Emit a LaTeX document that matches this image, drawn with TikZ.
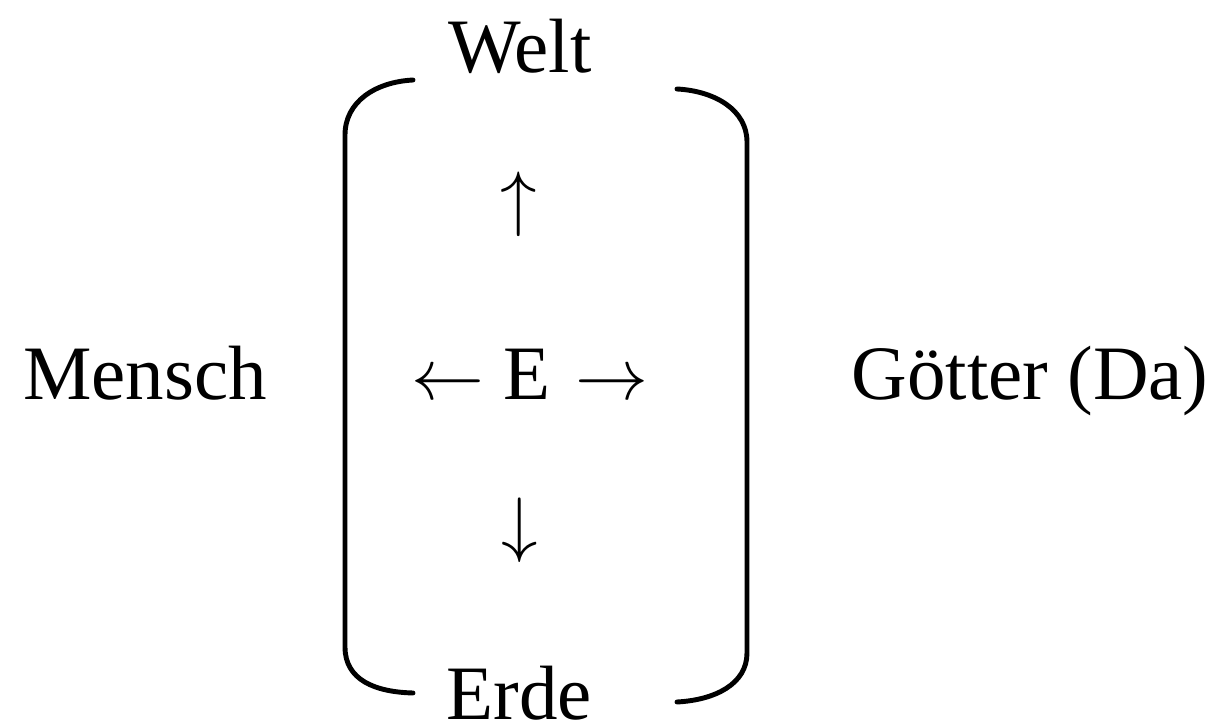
\documentclass[tikz,border=0pt]{standalone}
\usepackage{fontspec}
\setmainfont{Liberation Serif}
\usepackage{tikz}

\begin{document}
\begin{tikzpicture}[lbl/.style={anchor=base,inner sep=0pt,font=\fontsize{21.9}{26}\selectfont},
  brk/.style={line width=1.4pt,line cap=round}]
  \useasboundingbox (0,0) rectangle (12.15,7.27);
  \node[lbl] (welt) at (5.20,6.54) {Welt};
  \node[lbl] (erde) at (5.19,0.08) {Erde};
  \node[lbl] (mensch) at (1.45,3.27) {Mensch};
  \node[lbl] (goetter) at (10.30,3.27) {Götter (Da)};
  \node[lbl] (e) at (5.27,3.27) {E};
  \node[lbl] (la) at (4.48,3.27) {$\leftarrow$};
  \node[lbl] (ra) at (6.12,3.27) {$\rightarrow$};
  \node[lbl] (ua) at (5.19,5.04) {$\uparrow$};
  \node[lbl] (da) at (5.20,1.79) {$\downarrow$};
  % the two brackets
  \draw[brk] (4.13,6.47) .. controls (3.75,6.45) and (3.45,6.25) .. (3.45,5.92)
    -- (3.45,0.80) .. controls (3.45,0.47) and (3.75,0.35) .. (4.13,0.34);
  \draw[brk] (6.77,6.38) .. controls (7.15,6.36) and (7.47,6.17) .. (7.47,5.85)
    -- (7.47,0.74) .. controls (7.47,0.43) and (7.15,0.27) .. (6.77,0.25);
\end{tikzpicture}
\end{document}
